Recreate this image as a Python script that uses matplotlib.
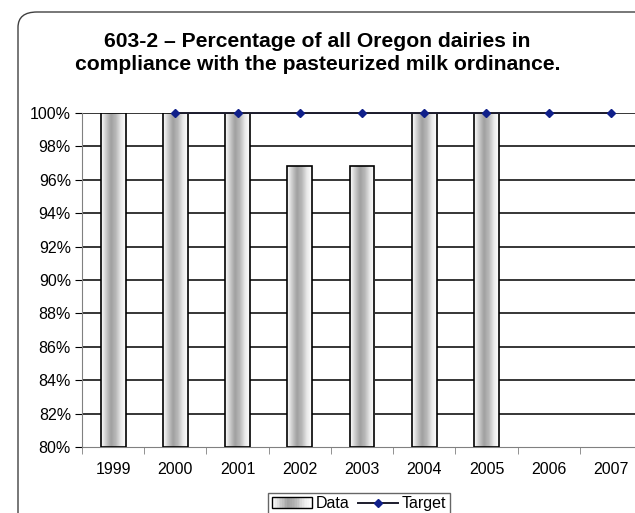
import numpy as np
import matplotlib
matplotlib.use('Agg')
from matplotlib import pyplot as plt
from matplotlib.patches import Rectangle, FancyBboxPatch
from matplotlib.lines import Line2D
from matplotlib.legend_handler import HandlerBase
from matplotlib.colors import LinearSegmentedColormap

plt.rc('font', family='Liberation Sans')

years = ['1999', '2000', '2001', '2002', '2003', '2004', '2005', '2006', '2007']
data = [100.0, 100.0, 100.0, 96.8, 96.8, 100.0, 100.0, np.nan, np.nan]
target = [np.nan, 100.0, 100.0, 100.0, 100.0, 100.0, 100.0, 100.0, 100.0]

# metallic-looking shading across each bar
shade = LinearSegmentedColormap.from_list(
    'shade', ['#ffffff', '#cccccc', '#a0a0a0', '#b8b8b8', '#e8e8e8', '#ffffff'])
grad = np.linspace(0, 1, 64).reshape(1, -1)


class GradientHandler(HandlerBase):
    def create_artists(self, legend, orig_handle, xdescent, ydescent,
                       width, height, fontsize, trans):
        arts = []
        n = 24
        w = width / n
        for i in range(n):
            r = Rectangle((-xdescent + i * w, -ydescent), w * 1.05, height,
                          facecolor=shade(i / (n - 1)), edgecolor='none',
                          transform=trans)
            arts.append(r)
        arts.append(Rectangle((-xdescent, -ydescent), width, height,
                              facecolor='none', edgecolor='black', lw=1.0,
                              transform=trans))
        return arts


fig = plt.figure(figsize=(6.35, 5.13), dpi=100)

# rounded chart border
fig.patches.append(FancyBboxPatch((18 / 635, -0.2), 1.0, 1.2 - 12 / 513,
                                  boxstyle='round,pad=0,rounding_size=0.03',
                                  transform=fig.transFigure, facecolor='white',
                                  edgecolor='#404040', lw=1.0, zorder=0))

ax = fig.add_axes([82 / 635, 66 / 513, 560 / 635, 334 / 513])
ax.set_facecolor('none')
ax.set_zorder(1)

x = np.arange(len(years))
bar_w = 0.4

for yv in np.arange(82, 101, 2):
    ax.axhline(yv, color='black', lw=1.1, zorder=1)

for xi, v in zip(x, data):
    if np.isnan(v):
        continue
    rect = Rectangle((xi - bar_w / 2, 80), bar_w, v - 80, facecolor='none',
                     edgecolor='black', lw=1.2, zorder=3)
    ax.add_patch(rect)
    im = ax.imshow(grad, cmap=shade, aspect='auto', zorder=2,
                   extent=(xi - bar_w / 2, xi + bar_w / 2, 80, v))
    im.set_clip_path(rect)

ax.plot(x, target, color='#1c1c2c', lw=1.4, marker='D', markersize=4,
        markerfacecolor='#10208a', markeredgecolor='#10208a', zorder=4,
        clip_on=False)
ax.set_xlim(-0.5, len(years) - 0.5)
ax.set_ylim(80, 100)

ax.set_yticks(np.arange(80, 101, 2))
ax.set_yticklabels(['%d%%' % v for v in np.arange(80, 101, 2)], fontsize=11.5)
ax.set_xticks(x)
ax.set_xticklabels(years, fontsize=11.5)
ax.set_xticks(np.arange(-0.5, len(years), 1), minor=True)
ax.tick_params(axis='x', which='major', length=0, pad=11)
ax.tick_params(axis='x', which='minor', length=5, color='#808080', direction='out')
ax.tick_params(axis='y', length=5, color='black', direction='out', pad=3)
for s in ['top', 'right']:
    ax.spines[s].set_visible(False)
ax.spines['left'].set_color('#808080')
ax.spines['bottom'].set_color('#808080')

fig.text(0.5, 1 - 53 / 513, '603-2 \u2013 Percentage of all Oregon dairies in\n'
         'compliance with the pasteurized milk ordinance.',
         ha='center', va='center', fontsize=15.2, fontweight='bold',
         linespacing=1.3)

h_data = Rectangle((0, 0), 1, 1)
h_target = Line2D([], [], color='#1c1c2c', lw=1.4, marker='D', markersize=4,
                  markerfacecolor='#10208a', markeredgecolor='#10208a')
leg = fig.legend([h_data, h_target], ['Data', 'Target'], loc='center',
                 bbox_to_anchor=(359 / 635, 1 - 504 / 513), ncol=2,
                 fontsize=11.5, frameon=True, fancybox=False,
                 handler_map={h_data: GradientHandler()},
                 handlelength=2.5, handletextpad=0.25, columnspacing=0.5,
                 borderpad=0.25)
leg.get_frame().set_edgecolor('#404040')
leg.get_frame().set_linewidth(1.0)

fig.savefig('out.png', dpi=100)
